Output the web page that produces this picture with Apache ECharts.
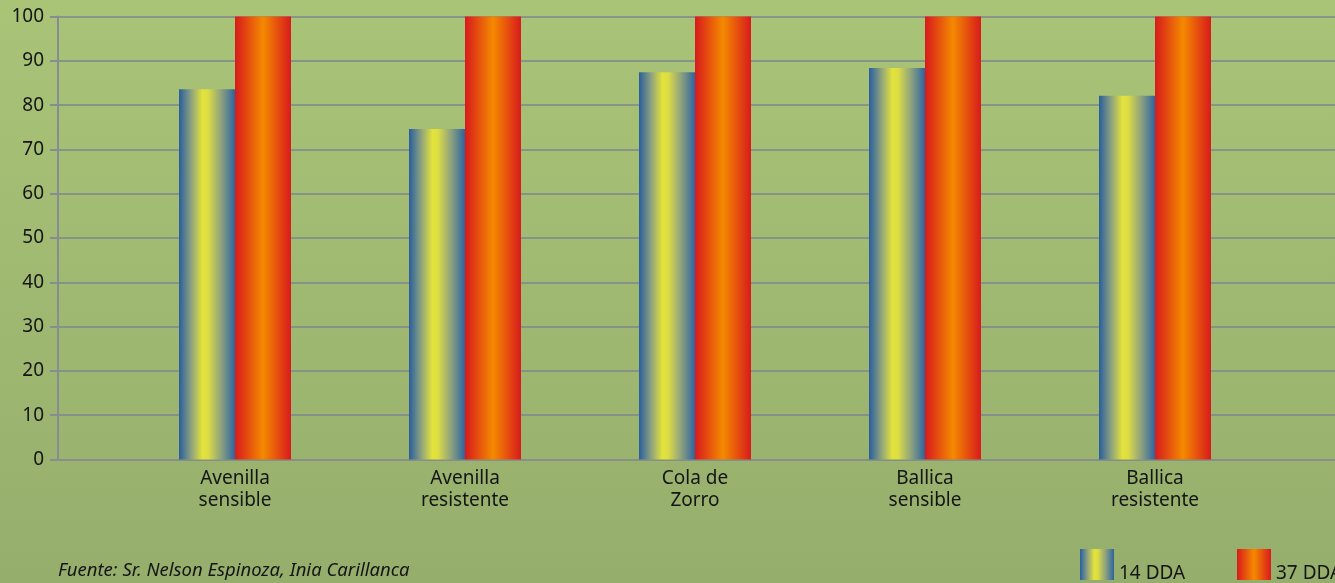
<!DOCTYPE html>
<html>
<head>
<meta charset="utf-8">
<script src="https://cdn.jsdelivr.net/npm/echarts@6/dist/echarts.min.js"></script>
<style>
html,body{margin:0;padding:0;}
#c{width:1335px;height:583px;}
</style>
</head>
<body>
<div id="c"></div>
<script>
var categories = ['Avenilla\nsensible', 'Avenilla\nresistente', 'Cola de\nZorro', 'Ballica\nsensible', 'Ballica\nresistente'];
var series14 = [83.6, 74.6, 87.4, 88.4, 82.1];
var series37 = [100, 100, 100, 100, 100];
var seriesNames = ['14 DDA', '37 DDA'];
var yTicks = [0, 10, 20, 30, 40, 50, 60, 70, 80, 90, 100];

var blueGrad = new echarts.graphic.LinearGradient(0, 0, 1, 0, [
  {offset: 0, color: '#285e9f'},
  {offset: 0.22, color: '#8ea27e'},
  {offset: 0.42, color: '#e3e33a'},
  {offset: 0.52, color: '#dcdc45'},
  {offset: 0.75, color: '#8ea27e'},
  {offset: 1, color: '#2d649f'}
]);
var redGrad = new echarts.graphic.LinearGradient(0, 0, 1, 0, [
  {offset: 0, color: '#d81a1c'},
  {offset: 0.5, color: '#f48a00'},
  {offset: 1, color: '#d81a1c'}
]);

var chart = echarts.init(document.getElementById('c'), null, {renderer: 'canvas'});
var font = '"Noto Sans", "Open Sans", sans-serif';
var legendText = {color: '#151515', fontSize: 19, fontFamily: font,
  rich: {t: {color: '#151515', fontSize: 19, fontFamily: font, padding: [18, 0, 0, 0]}}};
chart.setOption({
  animation: false,
  backgroundColor: new echarts.graphic.LinearGradient(0, 0, 0, 1, [
    {offset: 0, color: '#a9c477'},
    {offset: 1, color: '#96ae6c'}
  ]),
  grid: [
    {left: 58, right: 0, top: 16.5, bottom: 123.5},
    {left: 120, right: 65, top: 16.5, bottom: 123.5}
  ],
  xAxis: [
    {gridIndex: 0, type: 'value', min: 0, max: 1, show: false},
    {gridIndex: 1, type: 'category', data: categories,
      axisLine: {show: false}, axisTick: {show: false},
      axisLabel: {color: '#151515', fontSize: 19, fontFamily: font, lineHeight: 22, margin: 8}}
  ],
  yAxis: [
    {gridIndex: 0, type: 'value', min: 0, max: 100, interval: 10,
      axisLine: {show: true, lineStyle: {color: '#878c92', width: 2}},
      axisTick: {show: true, length: 8, lineStyle: {color: '#878c92', width: 2}},
      splitLine: {show: true, lineStyle: {color: '#7f8590', width: 1.5}},
      axisLabel: {color: '#151515', fontSize: 19, fontFamily: font, margin: 14,
        formatter: function (v) { return yTicks.indexOf(v) >= 0 ? String(v) : ''; }}},
    {gridIndex: 1, type: 'value', min: 0, max: 100, show: false}
  ],
  legend: [
    {left: 1080, top: 549, padding: 0, itemWidth: 34, itemHeight: 31, itemGap: 5,
      icon: 'rect', textStyle: legendText, formatter: '{t|{name}}', data: [seriesNames[0]]},
    {left: 1237, top: 549, padding: 0, itemWidth: 34, itemHeight: 31, itemGap: 5,
      icon: 'rect', textStyle: legendText, formatter: '{t|{name}}', data: [seriesNames[1]]}
  ],
  graphic: [{
    type: 'text', left: 58, top: 561,
    style: {text: 'Fuente: Sr. Nelson Espinoza, Inia Carillanca', fontStyle: 'italic',
      fontSize: 18.5, fontFamily: font, fill: '#151515'}
  }],
  series: [
    {name: seriesNames[0], type: 'bar', xAxisIndex: 1, yAxisIndex: 1, data: series14,
      barWidth: 56, barGap: '0%', itemStyle: {color: blueGrad}},
    {name: seriesNames[1], type: 'bar', xAxisIndex: 1, yAxisIndex: 1, data: series37,
      barWidth: 56, barGap: '0%', itemStyle: {color: redGrad}}
  ]
});
</script>
</body>
</html>
